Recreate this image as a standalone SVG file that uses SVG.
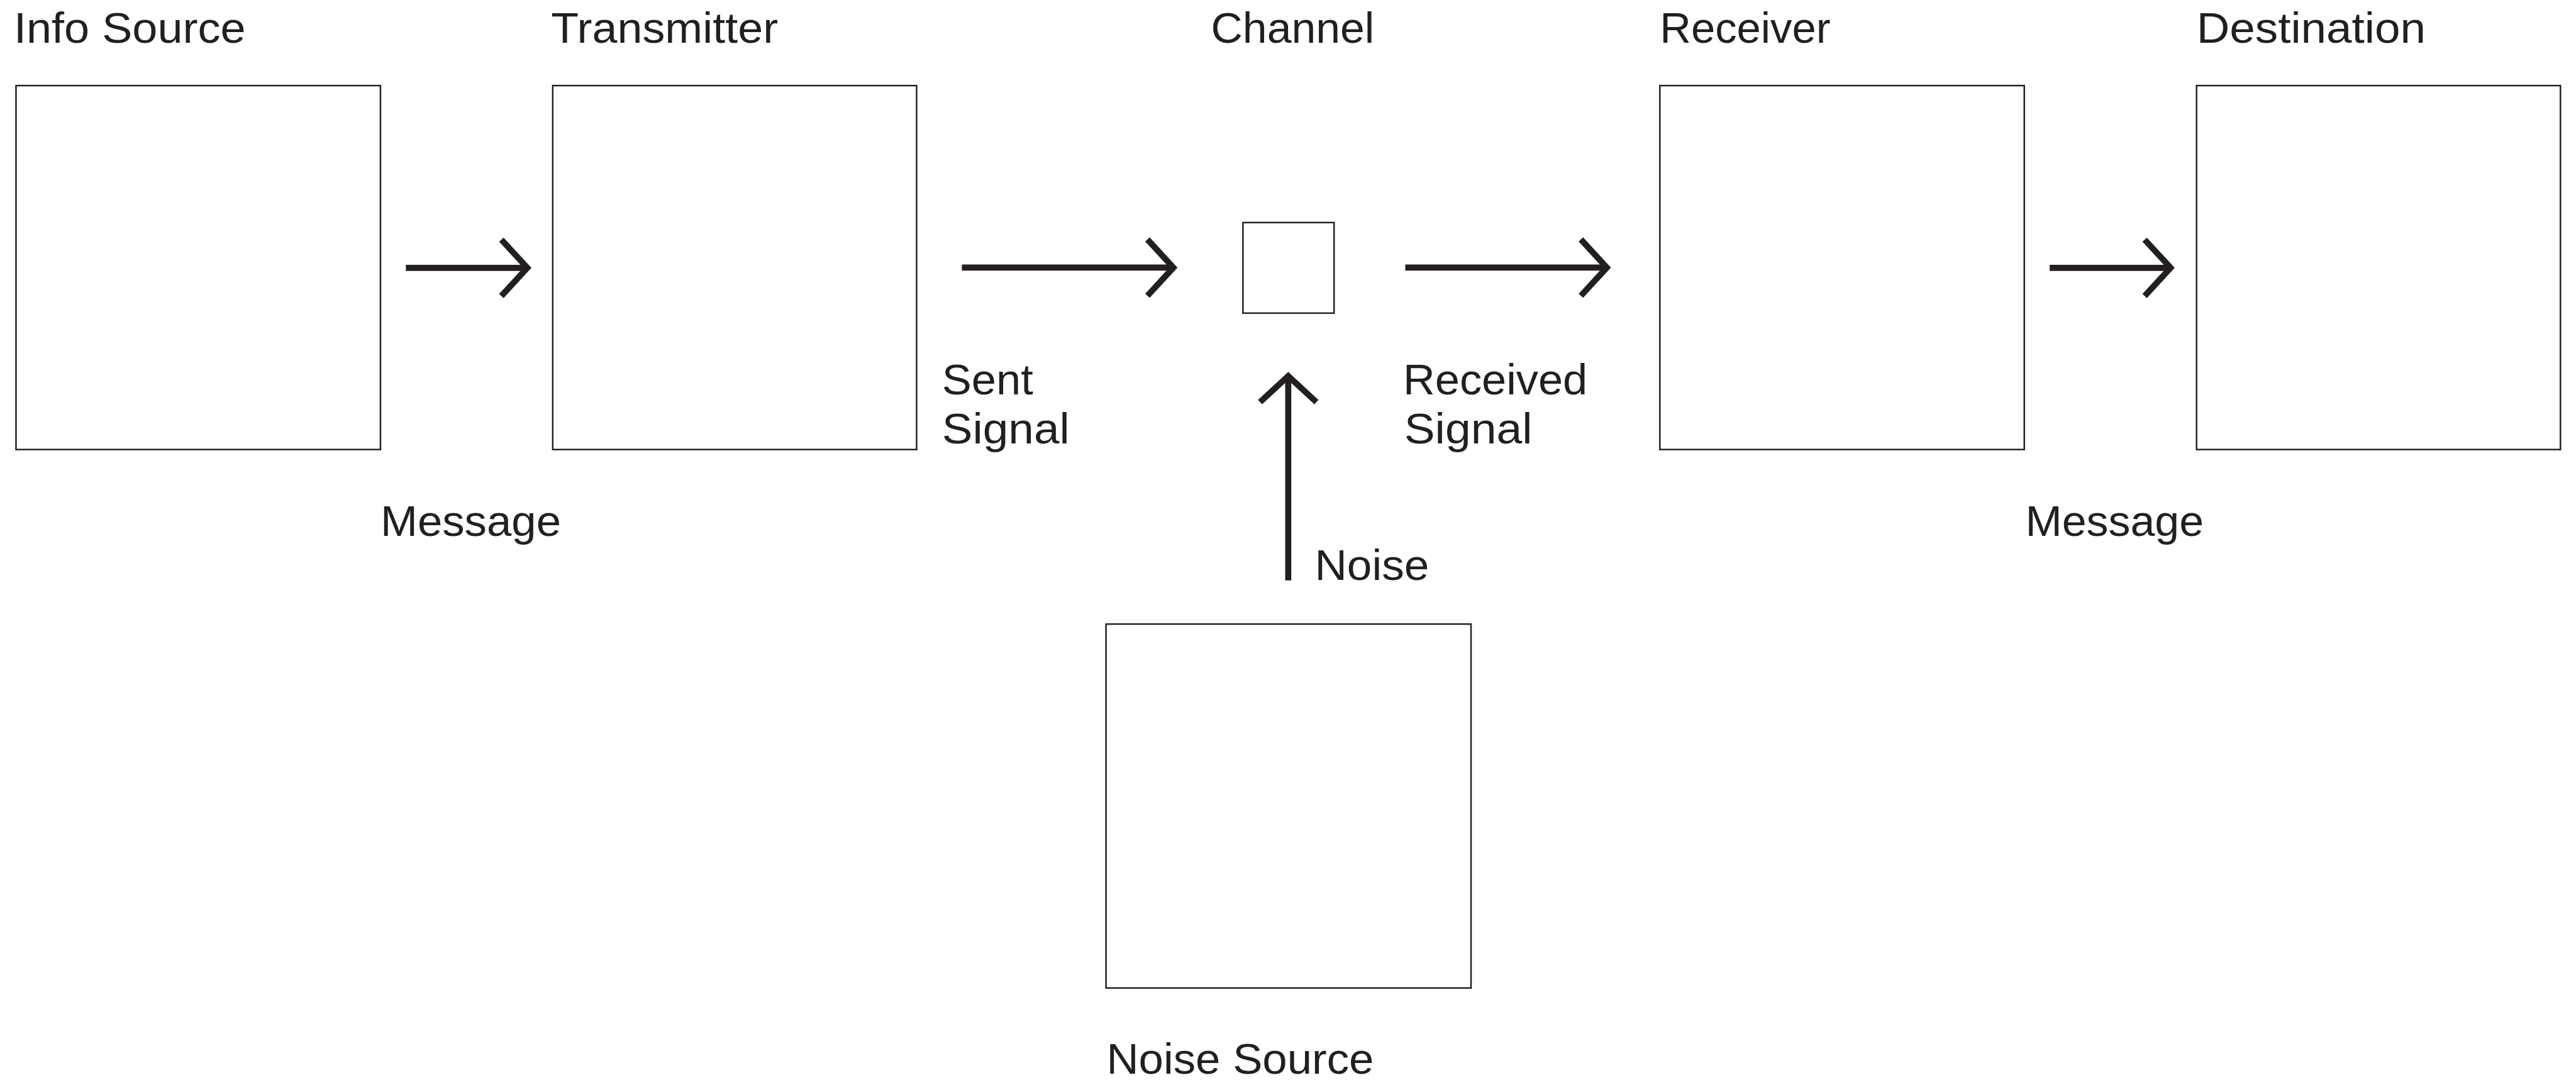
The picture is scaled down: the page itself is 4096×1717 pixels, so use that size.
<svg xmlns="http://www.w3.org/2000/svg" width="4096" height="1717" viewBox="0 0 4096 1717">
<style>
.box{fill:#fff;stroke:#231f20;stroke-width:2.8}
.lbl{font-family:"Liberation Sans",Arial,sans-serif;font-size:79px;fill:#231f20}
.arr{fill:none;stroke:#231f20;stroke-width:11;marker-end:url(#chev)}
</style>
<defs>
<marker id="chev" markerUnits="userSpaceOnUse" viewBox="-60 -60 70 120" markerWidth="70" markerHeight="120" refX="0" refY="0" orient="auto">
<path d="M-47,-51 L0,0 L-47,51" fill="none" stroke="#231f20" stroke-width="11" stroke-miterlimit="4"/>
</marker>
</defs>
<rect width="4096" height="1717" fill="#fff"/>
<g transform="scale(0.878)">
<g id="info-source">
<rect class="box" x="29" y="155" width="660" height="659"/>
<text class="lbl" x="25" y="78" textLength="420" lengthAdjust="spacingAndGlyphs">Info Source</text>
</g>
<g id="transmitter">
<rect class="box" x="1001" y="155" width="659" height="659"/>
<text class="lbl" x="998" y="78" textLength="411" lengthAdjust="spacingAndGlyphs">Transmitter</text>
</g>
<g id="channel">
<rect class="box" x="2251" y="403" width="165" height="164"/>
<text class="lbl" x="2193" y="78" textLength="296" lengthAdjust="spacingAndGlyphs">Channel</text>
</g>
<g id="receiver">
<rect class="box" x="3006" y="155" width="660" height="659"/>
<text class="lbl" x="3006" y="78" textLength="309" lengthAdjust="spacingAndGlyphs">Receiver</text>
</g>
<g id="destination">
<rect class="box" x="3978" y="155" width="659" height="659"/>
<text class="lbl" x="3978" y="78" textLength="415" lengthAdjust="spacingAndGlyphs">Destination</text>
</g>
<g id="noise-source">
<rect class="box" x="2003" y="1130" width="661" height="659"/>
<text class="lbl" x="2004" y="1944" textLength="484" lengthAdjust="spacingAndGlyphs">Noise Source</text>
</g>
<g id="connectors">
<path class="arr" d="M735,485 H955"/>
<path class="arr" d="M1742,484.5 H2125"/>
<path class="arr" d="M2545,484.5 H2910"/>
<path class="arr" d="M3712,485 H3931"/>
<path class="arr" d="M2333,1051 V681"/>
</g>
<g id="labels">
<text class="lbl" x="689" y="970" textLength="327" lengthAdjust="spacingAndGlyphs">Message</text>
<text class="lbl" x="3668" y="970" textLength="323" lengthAdjust="spacingAndGlyphs">Message</text>
<text class="lbl" x="1706" y="714" textLength="165" lengthAdjust="spacingAndGlyphs">Sent</text>
<text class="lbl" x="1706" y="803" textLength="231" lengthAdjust="spacingAndGlyphs">Signal</text>
<text class="lbl" x="2541" y="714" textLength="334" lengthAdjust="spacingAndGlyphs">Received</text>
<text class="lbl" x="2543" y="803" textLength="232" lengthAdjust="spacingAndGlyphs">Signal</text>
<text class="lbl" x="2381" y="1050" textLength="207" lengthAdjust="spacingAndGlyphs">Noise</text>
</g>
</g>
</svg>
